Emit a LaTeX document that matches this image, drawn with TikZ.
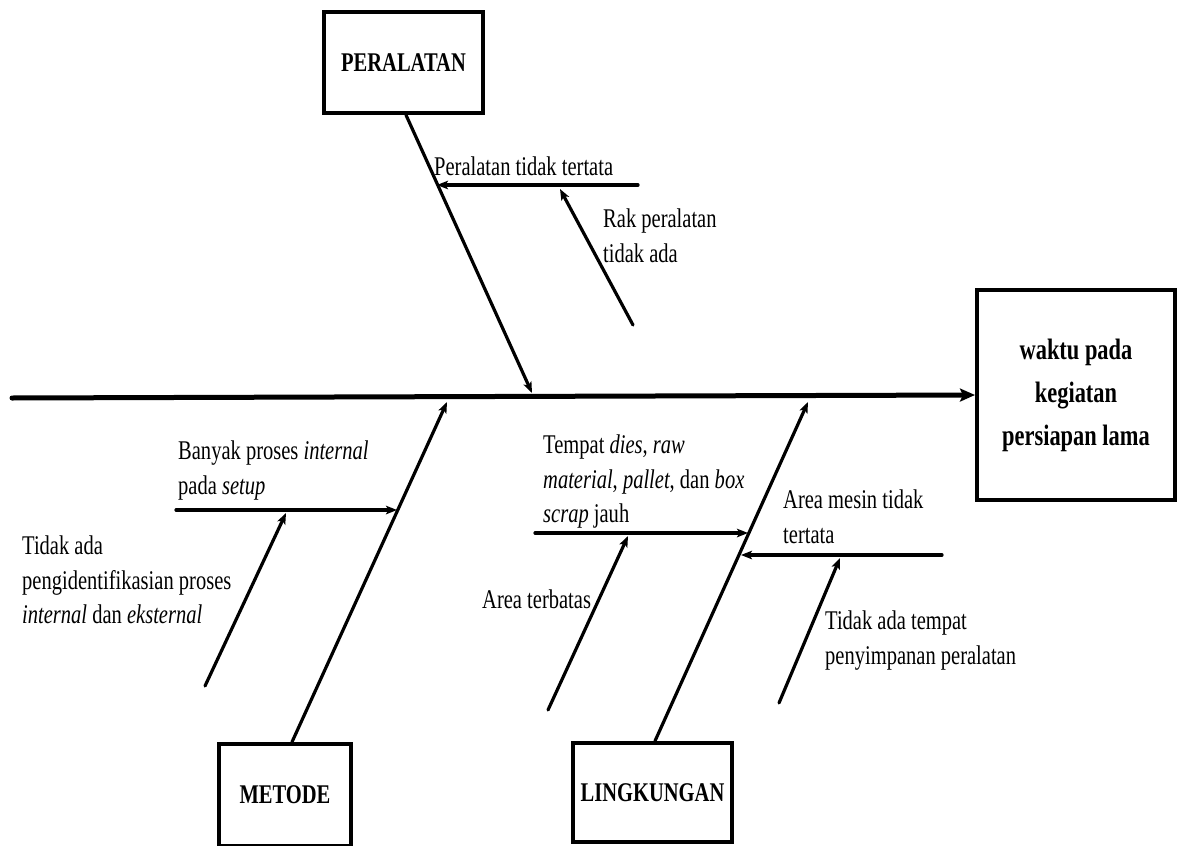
\documentclass[tikz,border=0pt]{standalone}
\usepackage{fontspec}
\setmainfont{Liberation Serif}[FakeStretch=0.76,Ligatures=NoCommon]
\usetikzlibrary{arrows.meta}

\begin{document}
\begin{tikzpicture}[x=1pt,y=-1pt,
  catbox/.style={draw, line width=4pt, inner sep=0pt, align=center,
    font=\bfseries\fontsize{27}{42}\selectfont},
  lbl/.style={anchor=north west, inner sep=0pt, align=left,
    font=\fontsize{27}{34.5}\selectfont},
  spine/.style={line width=5pt, line cap=round,
    -{Stealth[length=15pt,width=13pt,inset=3pt]}},
  bone/.style={line width=3.2pt, line cap=round,
    -{Stealth[length=11pt,width=8.5pt,inset=2.5pt]}}
]
\clip (0,0) rectangle (1179,846);
\fill[white] (0,0) rectangle (1179,846);

% effect and category boxes
\node[catbox, minimum width=198pt, minimum height=210pt,
  font=\bfseries\fontsize{29.5}{43}\selectfont] (effect) at (1076,395)
  {waktu pada\\kegiatan\\persiapan lama};
\node[catbox, minimum width=159pt, minimum height=101pt] (peralatan) at (403.5,62.5) {PERALATAN};
\node[catbox, minimum width=132pt, minimum height=102pt] (metode) at (285,795) {METODE};
\node[catbox, minimum width=159pt, minimum height=99pt] (lingkungan) at (652.5,792.5) {LINGKUNGAN};

% cause labels
\node[lbl] (l1) at (434,157) {Peralatan tidak tertata};
\node[lbl] (l2) at (603,209) {Rak peralatan\\tidak ada};
\node[lbl] (l3) at (178,441) {Banyak proses \textit{internal}\\pada \textit{setup}};
\node[lbl] (l4) at (22,536) {Tidak ada\\pengidentifikasian proses\\\textit{internal} dan \textit{eksternal}};
\node[lbl] (l5) at (543,435) {Tempat \textit{dies}, \textit{raw}\\\textit{material}, \textit{pallet}, dan \textit{box}\\\textit{scrap} jauh};
\node[lbl] (l6) at (783,490) {Area mesin tidak\\tertata};
\node[lbl] (l7) at (482,590) {Area terbatas};
\node[lbl] (l8) at (825,611) {Tidak ada tempat\\penyimpanan peralatan};

% connector end points
\coordinate (tail) at (12,398);
\coordinate (pTip) at (532,393);
\coordinate (mTip) at (447,402);
\coordinate (lTip) at (808,402);

\coordinate (b1s) at (638,185);  \coordinate (b1t) at (437,185);
\coordinate (s1s) at (633,325);  \coordinate (s1t) at (560,189);
\coordinate (b2s) at (176,510);  \coordinate (b2t) at (397,510);
\coordinate (s2s) at (205,686);  \coordinate (s2t) at (286,513);
\coordinate (b3s) at (535,533);  \coordinate (b3t) at (748,533);
\coordinate (s3s) at (548,710);  \coordinate (s3t) at (628,536);
\coordinate (b4s) at (942,555);  \coordinate (b4t) at (741,555);
\coordinate (s4s) at (779,703);  \coordinate (s4t) at (840,558);

% main spine
\draw[spine] (tail) -- (effect.west);

% category bones
\draw[bone] ([xshift=2.5pt]peralatan.south) -- (pTip);
\draw[bone] ([xshift=7pt]metode.north) -- (mTip);
\draw[bone] ([xshift=2.5pt]lingkungan.north) -- (lTip);

% causes and sub-causes
\draw[bone] (b1s) -- (b1t);
\draw[bone] (s1s) -- (s1t);
\draw[bone] (b2s) -- (b2t);
\draw[bone] (s2s) -- (s2t);
\draw[bone] (b3s) -- (b3t);
\draw[bone] (s3s) -- (s3t);
\draw[bone] (b4s) -- (b4t);
\draw[bone] (s4s) -- (s4t);
\end{tikzpicture}
\end{document}
